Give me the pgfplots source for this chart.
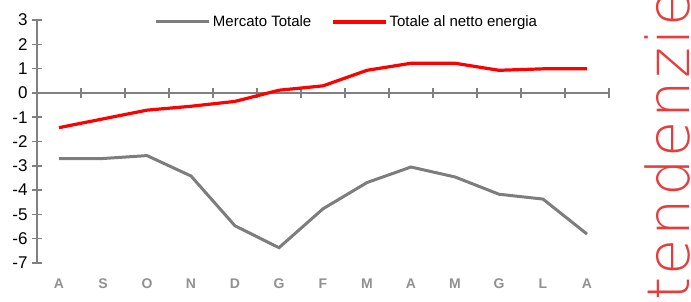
\documentclass[border=0pt]{standalone}
\usepackage{pgfplots}
\pgfplotsset{compat=1.18}
\usepackage{fontspec}
\setmainfont{Liberation Sans}
\newfontfamily\thinfont[LetterSpace=4]{DejaVu Sans ExtraLight}
\definecolor{axgray}{RGB}{128,128,128}
\definecolor{linegray}{RGB}{125,125,125}
\definecolor{labgray}{RGB}{145,145,145}
\definecolor{tred}{RGB}{232,60,60}
\begin{document}
\begin{tikzpicture}[x=1pt,y=1pt]
\path[use as bounding box] (0,0) rectangle (691,302);
\begin{axis}[
  at={(37pt,39pt)}, anchor=south west,
  scale only axis, width=572pt, height=243pt,
  xmin=-0.5, xmax=12.5, ymin=-7, ymax=3,
  axis x line=middle, axis y line=left,
  x axis line style={-}, y axis line style={-},
  axis line style={axgray, line width=1.5pt},
  hide obscured x ticks=false, hide obscured y ticks=false,
  xtick={-0.5,0.5,...,12.5}, xticklabels={},
  extra x ticks={0,1,...,12},
  extra x tick labels={A,S,O,N,D,G,F,M,A,M,G,L,A},
  extra x tick style={major tick length=0pt,
    xticklabel style={anchor=center, yshift=-191pt, text=labgray,
      font=\fontsize{14}{14}\selectfont\bfseries}},
  ytick={-7,-6,...,3},
  yticklabel style={anchor=east, xshift=-1pt, font=\fontsize{17}{17}\selectfont, text=black},
  /pgf/number format/assume math mode=true,
  tick style={axgray, line width=1.5pt},
  major tick length=10pt, tick align=center,
  legend style={at={(0.542,0.992)}, anchor=center, draw=none, fill=none,
    font=\fontsize{15}{15}\selectfont, legend columns=2,
    /tikz/every even column/.append style={column sep=18pt}},
  legend image code/.code={\draw[#1] (0pt,0pt) -- (53pt,0pt);},
  legend cell align=left,
  clip=false,
]
\addplot[linegray, line width=3pt, no markers] coordinates {
(0,-2.70) (1,-2.70) (2,-2.58) (3,-3.42) (4,-5.47) (5,-6.37) (6,-4.77)
(7,-3.69) (8,-3.05) (9,-3.46) (10,-4.17) (11,-4.37) (12,-5.81)};
\addlegendentry{Mercato Totale}
\addplot[red, line width=3.2pt, no markers] coordinates {
(0,-1.43) (1,-1.07) (2,-0.71) (3,-0.55) (4,-0.35) (5,0.11) (6,0.29)
(7,0.93) (8,1.22) (9,1.22) (10,0.93) (11,0.99) (12,0.99)};
\addlegendentry{Totale al netto energia}
\end{axis}
\node[rotate=90, anchor=base west, text=tred, inner sep=0pt,
  font=\thinfont\fontsize{59}{59}\selectfont] at (689,1) {tendenzie};
\end{tikzpicture}
\end{document}
